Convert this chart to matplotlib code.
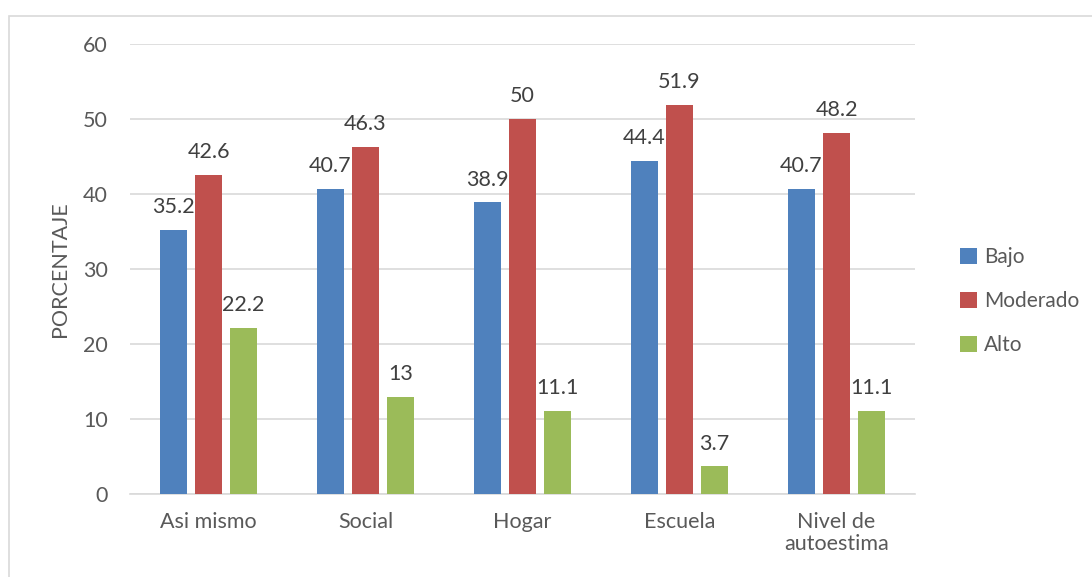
import matplotlib
matplotlib.use('Agg')
import matplotlib.pyplot as plt
from matplotlib.patches import Rectangle
import numpy as np

categories = ['Asi mismo', 'Social', 'Hogar', 'Escuela', 'Nivel de\nautoestima']
bajo = [35.2, 40.7, 38.9, 44.4, 40.7]
moderado = [42.6, 46.3, 50, 51.9, 48.2]
alto = [22.2, 13, 11.1, 3.7, 11.1]
series_names = ['Bajo', 'Moderado', 'Alto']
colors = ['#4f81bd', '#c0504d', '#9bbb59']
text_color = '#595959'

plt.rcParams['font.family'] = ['Lato', 'DejaVu Sans']

fig = plt.figure(figsize=(10.92, 5.77), dpi=100)
fig.patches.append(Rectangle((9 / 1092, -0.01), 1.0, 1 - 16 / 577 + 0.01,
                             transform=fig.transFigure, fill=False,
                             edgecolor='#d9d9d9', linewidth=1.2))
ax = fig.add_axes([130 / 1092, 1 - 494 / 577, 785 / 1092, 450 / 577])

x = np.arange(len(categories))
width = 0.172
offset = 0.223
for i, (vals, name, c) in enumerate(zip([bajo, moderado, alto], series_names, colors)):
    pos = x + (i - 1) * offset
    ax.bar(pos, vals, width, color=c, label=name, zorder=3)
    for p, v in zip(pos, vals):
        ax.text(p, v + 1.7, f'{v:g}', ha='center', va='bottom',
                fontsize=15.5, color='#404040')

ax.set_xlim(-0.5, len(categories) - 0.5)
ax.set_ylim(0, 60)
ax.set_yticks(range(0, 61, 10))
ax.yaxis.grid(True, color='#d9d9d9', linewidth=1.2, zorder=0)
ax.set_axisbelow(True)
for s in ['top', 'right', 'left']:
    ax.spines[s].set_visible(False)
ax.spines['bottom'].set_color('#d9d9d9')
ax.spines['bottom'].set_linewidth(1.2)
ax.tick_params(axis='both', length=0, labelsize=15.5, colors=text_color)
ax.tick_params(axis='y', pad=16)
ax.tick_params(axis='x', pad=13)
ax.set_xticks(x)
ax.set_xticklabels(categories, linespacing=1.15)
ax.set_ylabel('PORCENTAJE', fontsize=15.5, color=text_color, labelpad=9)

leg = fig.legend(loc='center left', bbox_to_anchor=(952 / 1092, 1 - 301 / 577),
                 frameon=False, fontsize=15, handlelength=0.8, handleheight=0.8,
                 labelspacing=1.15, handletextpad=0.35, borderaxespad=0)
for t in leg.get_texts():
    t.set_color(text_color)

fig.savefig('out.png', dpi=100)
